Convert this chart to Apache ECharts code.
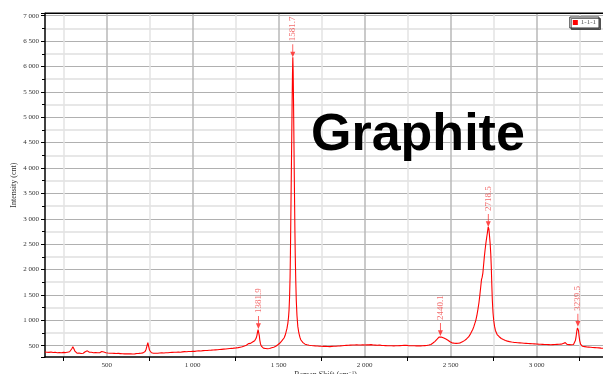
<!DOCTYPE html>
<html><head><meta charset="utf-8">
<script src="https://cdn.jsdelivr.net/npm/echarts@6/dist/echarts.min.js"></script>
<style>html,body{margin:0;padding:0;background:#fff}#c{width:603px;height:374px}</style>
</head><body><div id="c"></div>
<script>
const seriesName = '1-1-1';
const xAxisTitle = 'Raman Shift (cm{sup|−1})';
const yAxisTitle = 'Intensity (cnt)';
const sampleTitle = 'Graphite';
const xRange = [141, 3403];
const yRange = [277, 7047];

// Raman spectrum [shift cm-1, intensity cnt]
const spectrum = [
[140,375],[146,356],[152,372],[158,350],[164,368],[170,352],[176,374],[182,348],[188,366],[194,345],
[200,370],[206,350],[212,362],[218,340],[224,366],[230,348],[236,360],[242,342],[248,368],[254,350],
[260,364],[266,352],[272,372],[278,358],[284,380],[290,398],[297,440],[303,480],[309,440],[315,392],
[321,372],[327,352],[333,376],[339,355],[345,368],[351,346],[357,372],[363,350],[369,366],[375,380],
[381,372],[387,398],[393,390],[399,372],[405,352],[411,370],[417,348],[423,362],[429,340],[435,366],
[441,352],[447,360],[453,338],[459,362],[465,372],[471,385],[477,360],[483,374],[489,345],[495,362],
[501,340],[507,356],[513,336],[519,352],[525,332],[531,350],[537,330],[543,348],[549,328],[555,345],
[561,332],[567,348],[573,324],[579,344],[585,326],[591,340],[597,320],[603,338],[609,322],[615,342],
[621,325],[627,338],[633,318],[639,340],[645,322],[651,336],[657,320],[663,338],[669,326],[675,346],
[681,330],[687,348],[693,334],[699,352],[705,338],[711,358],[717,368],[723,385],[729,430],[734,495],
[739,558],[744,480],[749,410],[754,380],[760,360],[766,372],[772,352],[778,370],[784,350],[790,366],
[796,350],[802,372],[808,356],[814,378],[820,360],[826,376],[832,356],[838,380],[844,362],[850,378],
[856,360],[862,384],[868,366],[874,386],[880,368],[886,390],[892,370],[898,388],[904,372],[910,394],
[916,376],[922,392],[928,372],[934,396],[940,378],[946,400],[952,382],[958,398],[964,380],[970,404],
[976,385],[982,402],[988,384],[994,408],[1000,390],[1006,406],[1012,388],[1018,412],[1024,394],[1030,418],
[1036,398],[1042,414],[1048,396],[1054,422],[1060,402],[1066,426],[1072,406],[1078,420],[1084,404],[1090,432],
[1096,410],[1102,426],[1108,412],[1114,436],[1120,416],[1126,432],[1132,418],[1138,442],[1144,420],[1150,438],
[1156,424],[1162,446],[1168,428],[1174,450],[1180,432],[1186,448],[1192,436],[1198,458],[1204,440],[1210,456],
[1216,444],[1222,466],[1228,446],[1234,462],[1240,452],[1246,474],[1252,456],[1258,472],[1264,462],[1270,484],
[1276,470],[1282,486],[1288,478],[1294,500],[1300,492],[1306,515],[1312,508],[1318,532],[1324,540],[1330,552],
[1336,546],[1342,568],[1348,572],[1354,590],[1360,598],[1365,620],[1369,650],[1373,700],[1377,770],[1380,815],
[1382,828],[1384,790],[1387,700],[1390,610],[1394,535],[1399,492],[1405,470],[1411,452],[1417,468],[1423,446],
[1429,460],[1435,440],[1441,458],[1447,445],[1453,466],[1459,458],[1465,478],[1471,470],[1477,492],[1483,488],
[1489,512],[1495,518],[1501,540],[1507,552],[1513,575],[1519,598],[1525,620],[1531,652],[1537,700],[1542,760],
[1548,840],[1553,940],[1557,1060],[1560,1200],[1563,1450],[1566,1850],[1568,2300],[1570,2900],[1572,3500],[1574,4100],
[1576,4700],[1578,5300],[1580,5850],[1582,6180],[1584,5900],[1586,5350],[1588,4700],[1590,4000],[1592,3400],[1594,2800],
[1596,2300],[1599,1800],[1602,1400],[1606,1100],[1611,880],[1617,750],[1623,668],[1629,612],[1635,585],[1641,560],
[1647,548],[1653,530],[1659,540],[1665,518],[1671,532],[1677,510],[1683,526],[1689,504],[1695,522],[1701,500],
[1707,518],[1713,496],[1719,514],[1725,494],[1731,512],[1737,490],[1743,510],[1749,488],[1755,506],[1761,486],
[1767,504],[1773,488],[1779,508],[1785,484],[1791,502],[1797,482],[1803,504],[1809,486],[1815,506],[1821,488],
[1827,510],[1833,490],[1839,512],[1845,494],[1851,515],[1857,496],[1863,518],[1869,500],[1875,522],[1881,504],
[1887,526],[1893,506],[1899,528],[1905,508],[1911,530],[1917,510],[1923,534],[1929,512],[1935,532],[1941,514],
[1947,538],[1953,516],[1959,534],[1965,512],[1971,536],[1977,514],[1983,540],[1989,518],[1995,536],[2001,514],
[2007,540],[2013,518],[2019,538],[2025,516],[2031,542],[2037,520],[2043,536],[2049,512],[2055,534],[2061,510],
[2067,532],[2073,508],[2079,530],[2085,512],[2091,534],[2097,506],[2103,528],[2109,504],[2115,526],[2121,502],
[2127,524],[2133,500],[2139,522],[2145,498],[2151,520],[2157,500],[2163,518],[2169,496],[2175,520],[2181,498],
[2187,522],[2193,500],[2199,524],[2205,502],[2211,526],[2217,504],[2223,530],[2229,508],[2235,528],[2241,506],
[2247,526],[2253,502],[2259,524],[2265,500],[2271,522],[2277,498],[2283,520],[2289,500],[2295,518],[2301,496],
[2307,520],[2313,498],[2319,516],[2325,496],[2331,518],[2337,500],[2343,522],[2349,502],[2355,520],[2361,504],
[2367,526],[2373,512],[2379,532],[2385,524],[2391,546],[2397,552],[2403,570],[2409,585],[2415,605],[2421,628],
[2427,648],[2432,668],[2437,678],[2441,690],[2445,672],[2450,665],[2455,645],[2460,652],[2466,630],[2472,632],
[2478,612],[2484,608],[2490,588],[2496,578],[2502,560],[2508,556],[2514,540],[2520,550],[2526,532],[2532,546],
[2538,528],[2544,548],[2550,536],[2556,556],[2562,558],[2568,576],[2574,582],[2580,600],[2586,612],[2592,632],
[2598,648],[2604,672],[2610,700],[2616,738],[2622,775],[2628,820],[2634,870],[2640,935],[2646,1000],[2652,1090],
[2658,1210],[2664,1340],[2669,1480],[2674,1640],[2679,1800],[2683,1850],[2687,1930],[2691,2080],[2695,2230],[2700,2390],
[2705,2530],[2710,2650],[2714,2740],[2718,2840],[2722,2800],[2726,2650],[2730,2480],[2733,2300],[2736,2050],[2739,1700],
[2742,1400],[2746,1150],[2750,1000],[2755,880],[2760,800],[2765,760],[2770,720],[2776,688],[2782,676],[2788,648],
[2794,642],[2800,618],[2806,622],[2812,596],[2818,604],[2824,578],[2830,590],[2836,566],[2842,580],[2848,558],
[2854,572],[2860,550],[2866,566],[2872,546],[2878,562],[2884,542],[2890,558],[2896,538],[2902,556],[2908,534],
[2914,552],[2920,530],[2926,548],[2932,526],[2938,546],[2944,524],[2950,542],[2956,520],[2962,540],[2968,518],
[2974,538],[2980,516],[2986,536],[2992,512],[2998,534],[3004,510],[3010,530],[3016,508],[3022,528],[3028,506],
[3034,526],[3040,504],[3046,524],[3052,502],[3058,522],[3064,500],[3070,520],[3076,498],[3082,518],[3088,496],
[3094,520],[3100,500],[3106,522],[3112,502],[3118,526],[3124,504],[3130,528],[3136,510],[3142,530],[3148,524],
[3154,545],[3160,548],[3166,560],[3172,534],[3178,522],[3184,506],[3190,520],[3196,500],[3202,518],[3208,506],
[3214,524],[3220,548],[3225,600],[3229,680],[3233,780],[3237,850],[3240,872],[3243,800],[3246,700],[3250,600],
[3255,530],[3260,502],[3266,488],[3272,500],[3278,482],[3284,496],[3290,476],[3296,492],[3302,472],[3308,488],
[3314,468],[3320,484],[3326,464],[3332,480],[3338,462],[3344,476],[3350,458],[3356,474],[3362,456],[3368,470],
[3374,452],[3380,468],[3386,450],[3392,462],[3398,446],[3403,458]
];

const peakShift = [1381.9, 1581.7, 2440.1, 2718.5, 3239.5];
const peakIntensity = [828, 6180, 690, 2840, 872];
const peakText = ['1381.9', '1581.7', '2440.1', '2718.5', '3239.5'];

function fmt(v) {
  if (v >= 1000) {
    return Math.floor(v / 1000) + ' ' + String(v % 1000).padStart(3, '0');
  }
  return String(v);
}

const serif = 'Liberation Serif';
const chart = echarts.init(document.getElementById('c'), null, {renderer: 'canvas'});
chart.setOption({
  animation: false,
  backgroundColor: '#fff',
  grid: {left: 45, right: -3, top: 13.3, bottom: 17, containLabel: false, outerBoundsMode: 'none'},
  legend: {
    data: [seriesName], right: 4, top: 17, icon: 'rect', itemWidth: 5, itemHeight: 5,
    padding: [2, 3, 2, 3], borderColor: '#333', borderWidth: 1, backgroundColor: '#fff',
    shadowColor: 'rgba(0,0,0,0.55)', shadowOffsetX: 1.5, shadowOffsetY: 1.5, shadowBlur: 0,
    textStyle: {fontFamily: serif, fontSize: 7, color: '#555', padding: [0, 0, 0, -2]}
  },
  xAxis: {
    type: 'value', min: xRange[0], max: xRange[1], splitNumber: 7,
    axisLine: {lineStyle: {color: '#000', width: 1.5}},
    axisTick: {show: false},
    minorTick: {show: true, splitNumber: 2, length: 4, lineStyle: {color: '#000'}},
    axisLabel: {formatter: fmt, fontFamily: serif, fontSize: 7, color: '#333', margin: 5, showMinLabel: false, showMaxLabel: false},
    splitLine: {show: true, showMinLine: false, showMaxLine: false, lineStyle: {color: '#b8b8b8', width: 1.5}},
    minorSplitLine: {show: true, lineStyle: {color: '#e4e4e4', width: 1.5}},
    name: xAxisTitle, nameLocation: 'middle', nameGap: 13, nameMoveOverlap: false,
    nameTextStyle: {fontFamily: serif, fontSize: 8, color: '#333', verticalAlign: 'top',
      rich: {sup: {fontFamily: serif, fontSize: 5, color: '#333', verticalAlign: 'top', padding: [0, 0, 5, 0]}}}
  },
  yAxis: {
    type: 'value', min: yRange[0], max: yRange[1], splitNumber: 13,
    axisLine: {show: true, lineStyle: {color: '#000', width: 1.5}},
    axisTick: {show: true, length: 4, lineStyle: {color: '#000'}},
    minorTick: {show: true, splitNumber: 2, length: 3, lineStyle: {color: '#000'}},
    axisLabel: {formatter: fmt, fontFamily: serif, fontSize: 7, color: '#333', margin: 6, showMinLabel: false, showMaxLabel: false},
    splitLine: {show: true, showMinLine: false, showMaxLine: false, lineStyle: {color: '#b0b0b0', width: 1.2}},
    minorSplitLine: {show: true, lineStyle: {color: '#e0e0e0', width: 1.5}},
    name: yAxisTitle, nameLocation: 'middle', nameGap: 27, nameMoveOverlap: false,
    nameTextStyle: {fontFamily: serif, fontSize: 8, color: '#333'}
  },
  graphic: [
    {type: 'line', shape: {x1: 45, y1: 13.3, x2: 610, y2: 13.3}, style: {stroke: '#000', lineWidth: 1.5}, z: 50},
    {type: 'text', x: 311, y: 136, z: 100,
     style: {text: sampleTitle, fontFamily: 'Liberation Sans', fontWeight: 'bold', fontSize: 52, fill: '#000', align: 'left', verticalAlign: 'middle'}}
  ],
  series: [
    {
      type: 'line', name: seriesName, data: spectrum, showSymbol: false, symbol: 'none',
      lineStyle: {color: '#ff0000', width: 1.1}, itemStyle: {color: '#ff0000'}, z: 3
    },
    {
      type: 'scatter', name: 'peaks', silent: true, z: 4,
      data: peakShift.map((x, i) => [x, peakIntensity[i]]),
      symbol: 'path://M4.5,0 L5.5,0 L5.5,9 L8,9 L5,16 L2,9 L4.5,9 Z',
      symbolSize: [5, 13], symbolOffset: [0, '-50%'],
      itemStyle: {color: '#ff1a1a'},
      label: {
        show: true, position: 'top', distance: 3, rotate: 90, align: 'left', verticalAlign: 'middle',
        formatter: p => peakText[p.dataIndex], color: '#f04848', fontFamily: serif, fontSize: 9
      }
    }
  ]
});
</script></body></html>
